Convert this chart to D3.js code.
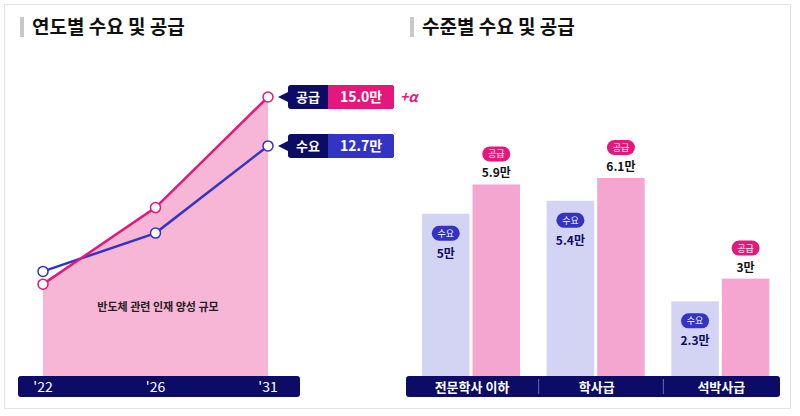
<!DOCTYPE html>
<html><head><meta charset="utf-8">
<script src="https://cdn.jsdelivr.net/npm/d3@7"></script>
<style>body{margin:0;background:#fff}svg{font-family:"Noto Sans CJK KR","Noto Sans",sans-serif}</style>
</head><body><svg id="c" width="800" height="416"></svg>
<script>
var years = ["'22", "'26", "'31"];
var supplyByYear = [6.2, 9.8, 15.0];
var demandByYear = [6.8, 8.6, 12.7];
var levels = ["전문학사 이하", "학사급", "석박사급"];
var demandByLevel = [5, 5.4, 2.3];
var supplyByLevel = [5.9, 6.1, 3];
var demandLabels = ["5만", "5.4만", "2.3만"];
var supplyLabels = ["5.9만", "6.1만", "3만"];

var NAVY = '#0c0b66', PINK = '#e3177c', BLUE = '#3434c4';
var svg = d3.select('#c');
svg.append('rect').attr('x', 4.5).attr('y', 4.5).attr('width', 786).attr('height', 404)
  .attr('fill', 'none').attr('stroke', '#e4e4e4');

function title(x, t) {
  svg.append('rect').attr('x', x).attr('y', 17).attr('width', 4).attr('height', 20).attr('fill', '#c8c8c8');
  svg.append('text').attr('x', x + 12).attr('y', 34).attr('font-size', 19).attr('font-weight', 700)
    .attr('fill', '#111').text(t);
}
title(20, '연도별 수요 및 공급');
title(410, '수준별 수요 및 공급');

// left: line chart
var x = d3.scalePoint().domain(years).range([43, 268]);
var y = d3.scaleLinear().domain([0, 15]).range([416, 97]);
var base = 376;
var sup = years.map(function (d, i) { return { k: d, v: supplyByYear[i] }; });
var dem = years.map(function (d, i) { return { k: d, v: demandByYear[i] }; });

svg.append('path').datum(sup).attr('fill', '#f7b6d5')
  .attr('d', d3.area().x(function (d) { return x(d.k); }).y0(base).y1(function (d) { return y(d.v); }));
svg.append('text').attr('x', 158).attr('y', 311).attr('text-anchor', 'middle').attr('font-size', 11)
  .attr('font-weight', 700).attr('fill', '#222').text('반도체 관련 인재 양성 규모');

[[dem, BLUE], [sup, PINK]].forEach(function (s) {
  svg.append('path').datum(s[0]).attr('fill', 'none').attr('stroke', s[1]).attr('stroke-width', 2.5)
    .attr('d', d3.line().x(function (d) { return x(d.k); }).y(function (d) { return y(d.v); }));
  svg.selectAll(null).data(s[0]).join('circle').attr('cx', function (d) { return x(d.k); })
    .attr('cy', function (d) { return y(d.v); }).attr('r', 5).attr('fill', '#fff')
    .attr('stroke', s[1]).attr('stroke-width', 1.5);
});

svg.append('rect').attr('x', 18).attr('y', 376).attr('width', 282).attr('height', 21).attr('rx', 3).attr('fill', NAVY);
svg.selectAll(null).data(years).join('text').attr('x', function (d) { return x(d); }).attr('y', 392)
  .attr('text-anchor', 'middle').attr('fill', '#fff').attr('font-size', 14).text(function (d) { return d; });

function callout(cy, lbl, val, col) {
  var px = x(years[2]) + 20;
  svg.append('path').attr('d', 'M' + (px - 10) + ',' + cy + 'L' + (px + 2) + ',' + (cy - 6) + 'L' + (px + 2) + ',' + (cy + 6) + 'Z').attr('fill', NAVY);
  svg.append('rect').attr('x', px).attr('y', cy - 12).attr('width', 106).attr('height', 24).attr('rx', 3).attr('fill', NAVY);
  svg.append('rect').attr('x', px + 40).attr('y', cy - 12).attr('width', 66).attr('height', 24).attr('rx', 3).attr('fill', col);
  svg.append('rect').attr('x', px + 40).attr('y', cy - 12).attr('width', 6).attr('height', 24).attr('fill', col);
  svg.append('text').attr('x', px + 20).attr('y', cy + 5).attr('text-anchor', 'middle').attr('fill', '#fff')
    .attr('font-size', 13).attr('font-weight', 700).text(lbl);
  svg.append('text').attr('x', px + 73).attr('y', cy + 5).attr('text-anchor', 'middle').attr('fill', '#fff')
    .attr('font-size', 14).attr('font-weight', 700).text(val);
}
callout(y(supplyByYear[2]), '공급', supplyByYear[2].toFixed(1) + '만', PINK);
callout(y(demandByYear[2]), '수요', demandByYear[2].toFixed(1) + '만', BLUE);
svg.append('text').attr('x', 400).attr('y', y(supplyByYear[2]) + 5).attr('fill', PINK).attr('font-size', 14)
  .attr('font-weight', 700).attr('font-style', 'italic').text('+α');

// right: bar chart
var x0 = d3.scaleBand().domain(levels).range([406, 780]).paddingInner(0).paddingOuter(0);
var x1 = d3.scaleBand().domain(['d', 's']).range([16, 114]).paddingInner(0.06);
var yb = d3.scaleLinear().domain([0, 6.1]).range([base, 178]);

levels.forEach(function (lv, i) {
  var gx = x0(lv);
  var dx = gx + x1('d'), sx = gx + x1('s'), w = x1.bandwidth();
  var dt = yb(demandByLevel[i]), st = yb(supplyByLevel[i]);
  svg.append('rect').attr('x', dx).attr('y', dt).attr('width', w).attr('height', base - dt).attr('fill', '#d3d3f3');
  svg.append('rect').attr('x', sx).attr('y', st).attr('width', w).attr('height', base - st).attr('fill', '#f5a6d0');
  svg.append('rect').attr('x', dx + w / 2 - 14).attr('y', dt + 12).attr('width', 28).attr('height', 15).attr('rx', 7.5).attr('fill', BLUE);
  svg.append('text').attr('x', dx + w / 2).attr('y', dt + 23).attr('text-anchor', 'middle').attr('fill', '#fff').attr('font-size', 9).text('수요');
  svg.append('text').attr('x', dx + w / 2).attr('y', dt + 44).attr('text-anchor', 'middle').attr('fill', NAVY)
    .attr('font-size', 12).attr('font-weight', 700).text(demandLabels[i]);
  svg.append('rect').attr('x', sx + w / 2 - 14).attr('y', st - 38).attr('width', 28).attr('height', 15).attr('rx', 7.5).attr('fill', PINK);
  svg.append('text').attr('x', sx + w / 2).attr('y', st - 27).attr('text-anchor', 'middle').attr('fill', '#fff').attr('font-size', 9).text('공급');
  svg.append('text').attr('x', sx + w / 2).attr('y', st - 7).attr('text-anchor', 'middle').attr('fill', '#111')
    .attr('font-size', 12).attr('font-weight', 700).text(supplyLabels[i]);
});

svg.append('rect').attr('x', 406).attr('y', 376).attr('width', 374).attr('height', 21).attr('rx', 3).attr('fill', NAVY);
levels.forEach(function (lv, i) {
  var gx = x0(lv);
  if (i > 0) svg.append('line').attr('x1', gx + 8).attr('x2', gx + 8).attr('y1', 379).attr('y2', 394).attr('stroke', '#6a6aa8');
  svg.append('text').attr('x', gx + 66).attr('y', 392).attr('text-anchor', 'middle').attr('fill', '#fff')
    .attr('font-size', 13).attr('font-weight', 700).text(lv);
});
</script></body></html>
